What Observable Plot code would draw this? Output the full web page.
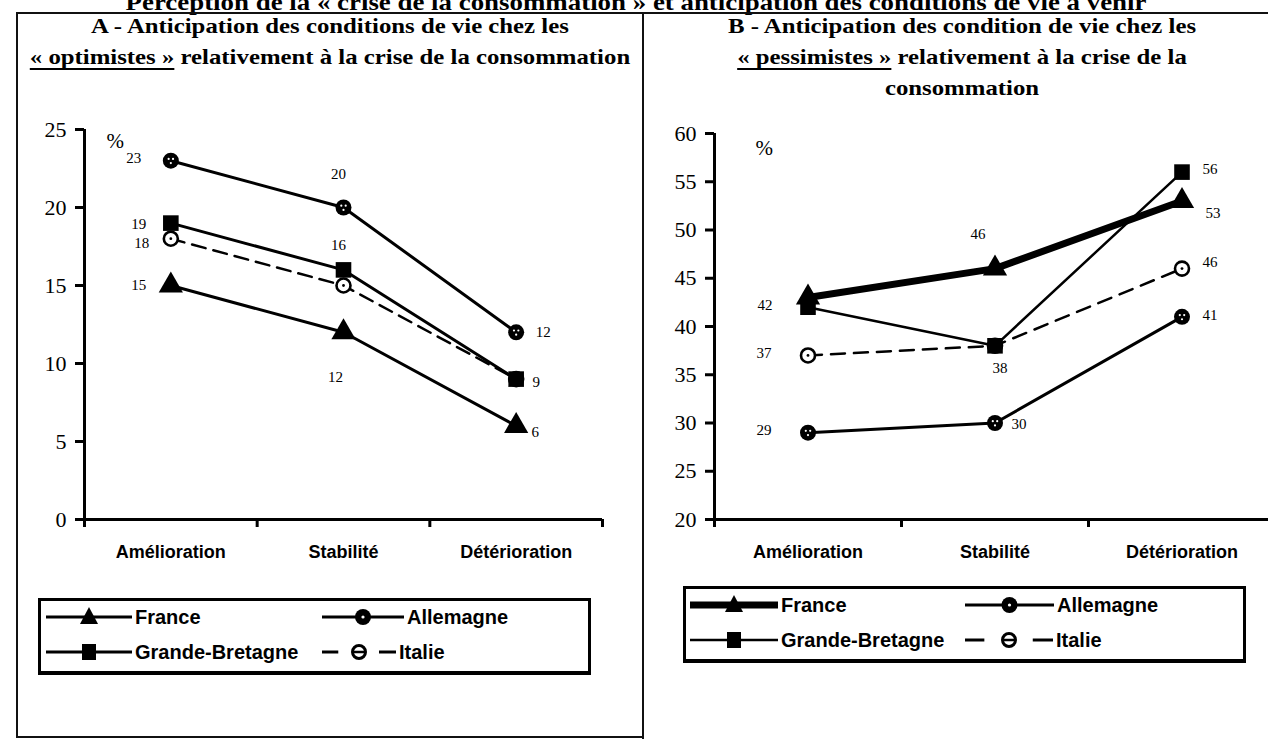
<!DOCTYPE html>
<html lang="fr">
<head>
<meta charset="utf-8">
<script src="https://cdn.jsdelivr.net/npm/d3@7"></script>
<script src="https://cdn.jsdelivr.net/npm/@observablehq/plot@0.6"></script>
<style>
  html, body { margin: 0; padding: 0; background: #fff; }
  body { position: relative; width: 1268px; height: 739px; overflow: hidden; color: #000; }
  .abs { position: absolute; }
  .supertitle { left: 0; width: 1272px; top: -5px; height: 14px; text-align: center; font: bold 24px/14px "Liberation Serif", serif;
    white-space: nowrap; transform: scaleX(1.12); transform-origin: 636px 0; }
  .panel { box-sizing: border-box; border: 2px solid #111; }
  .ptitle { text-align: center; font: bold 21px/31px "Liberation Serif", serif; white-space: nowrap; transform: scaleX(1.18); }
  .ptitle .u { text-decoration: underline; text-decoration-thickness: 2px; text-underline-offset: 4px; }
  .legend { box-sizing: border-box; border: 3px solid #000; border-bottom-width: 4px; }
  .item { display: flex; align-items: center; height: 28px; font: bold 20px "Liberation Sans", Arial, sans-serif; white-space: nowrap; }
  .item svg { display: block; margin-right: 3px; }
  .chart svg { display: block; max-width: none !important; }
</style>
</head>
<body>
<div class="abs supertitle">Perception de la « crise de la consommation » et anticipation des conditions de vie à venir</div>

<div class="abs panel" style="left:16px; top:12px; width:628px; height:726px;"></div>
<div class="abs panel" style="left:642px; top:12px; width:645px; height:740px;"></div>

<div class="abs ptitle" style="left:16px; width:628px; top:11px; transform-origin: 314px 0;">
  A - Anticipation des conditions de vie chez les<br>
  <span class="u">« optimistes »</span> relativement à la crise de la consommation
</div>
<div class="abs ptitle" style="left:642px; width:640px; top:11px; transform-origin: 320px 0;">
  B - Anticipation des condition de vie chez les<br>
  <span class="u">« pessimistes »</span> relativement à la crise de la<br>
  consommation
</div>

<div id="chartA" class="abs chart" style="left:0px; top:100px; width:642px;"></div>
<div id="chartB" class="abs chart" style="left:641px; top:100px; width:641px;"></div>

<div class="abs legend" style="left:38px; top:598px; width:553px; height:77px;"></div>
<div class="abs legend" style="left:683px; top:586px; width:563px; height:77px;"></div>
<div id="legendItems"></div>

<script>
// ---- Data -------------------------------------------------------------
const categories = ["Amélioration", "Stabilité", "Détérioration"];
const series = ["France", "Allemagne", "Grande-Bretagne", "Italie"];

// A : « optimistes »
const franceA = [15, 12, 6];
const allemagneA = [23, 20, 12];
const grandeBretagneA = [19, 16, 9];
const italieA = [18, 15, 9];

// B : « pessimistes »
const franceB = [43, 46, 53];
const allemagneB = [29, 30, 41];
const grandeBretagneB = [42, 38, 56];
const italieB = [37, 38, 46];

const yTicksA = [0, 5, 10, 15, 20, 25];
const yTicksB = [20, 25, 30, 35, 40, 45, 50, 55, 60];

// ---- Layout & style ---------------------------------------------------
const serif = "Liberation Serif, Times New Roman, serif";
const sans = "Liberation Sans, Arial, sans-serif";

// value-label offsets (dx, dy) per series and category; null = not printed
const labelPosA = {
  "France":          [[-32, 0], [-8, 45], [19, 6]],
  "Allemagne":       [[-37, -3], [-5, -33], [27, 0]],
  "Grande-Bretagne": [[-32, 1], [-5, -25], [20, 3]],
  "Italie":          [[-29, 4], null, null]
};
const labelPosB = {
  "France":          [null, [-17, -34], [31, 12]],
  "Allemagne":       [[-44, -2], [24, 1], [28, -2]],
  "Grande-Bretagne": [[-43, -2], [5, 22], [28, -3]],
  "Italie":          [[-44, -2], null, [28, -6]]
};

const styleA = {
  "France":          {marker: "triangle", strokeWidth: 3},
  "Allemagne":       {marker: "dotted", strokeWidth: 3},
  "Grande-Bretagne": {marker: "square", strokeWidth: 3},
  "Italie":          {marker: "open", strokeWidth: 2.5, dash: "14,8"}
};
const styleB = {
  "France":          {marker: "triangle", strokeWidth: 7},
  "Allemagne":       {marker: "dotted", strokeWidth: 3},
  "Grande-Bretagne": {marker: "square", strokeWidth: 2.5},
  "Italie":          {marker: "open", strokeWidth: 2.5, dash: "14,9"}
};
// drawing order of the markers (later ones on top)
const markerOrder = ["Italie", "Allemagne", "Grande-Bretagne", "France"];

function rowsOf(name, values) {
  return categories.map((c, i) => ({series: name, category: c, x: i + 0.5, value: values[i]}));
}

function markerMarks(rows, kind) {
  const pos = {x: "x", y: "value"};
  switch (kind) {
    case "triangle":
      return [Plot.dot(rows, {...pos, symbol: "triangle", r: 9, fill: "black"})];
    case "square":
      return [Plot.dot(rows, {...pos, symbol: "square", r: 8.8, fill: "black"})];
    case "dotted":
      // dark disc with a few light speckles
      return [
        Plot.dot(rows, {...pos, r: 8, fill: "black"}),
        Plot.dot(rows, {...pos, r: 1.1, fill: "white", dx: -2.2, dy: -1.8}),
        Plot.dot(rows, {...pos, r: 1.1, fill: "white", dx: 2.2, dy: -1.8}),
        Plot.dot(rows, {...pos, r: 1.1, fill: "white", dx: 0, dy: 2.4})
      ];
    case "open":
      return [
        Plot.dot(rows, {...pos, r: 7, fill: "white", stroke: "black", strokeWidth: 2.6}),
        Plot.dot(rows, {...pos, r: 1.4, fill: "black"})
      ];
  }
  return [];
}

function drawChart({data, style, labelPos, yDomain, yTicks, width, height, margin, percent}) {
  const marks = [];
  const n = categories.length;

  // axes
  marks.push(Plot.ruleX([0], {y1: yDomain[0], y2: yDomain[1], stroke: "black", strokeWidth: 3}));
  marks.push(Plot.ruleY([yDomain[0]], {x1: 0, x2: n, stroke: "black", strokeWidth: 3}));
  marks.push(Plot.axisY({ticks: yTicks, tickSize: 9, tickPadding: 9, stroke: "black", strokeWidth: 3,
    fontSize: 22, fontFamily: serif, fill: "black", label: null}));
  marks.push(Plot.axisX({ticks: d3.range(n + 1), tickSize: 8, tickFormat: () => "", stroke: "black",
    strokeWidth: 3, label: null}));
  marks.push(Plot.text(categories, {x: (d, i) => i + 0.5, y: () => yDomain[0], text: d => d, dy: 33,
    fontFamily: sans, fontWeight: "bold", fontSize: 18, fill: "black"}));
  marks.push(Plot.text(["%"], {frameAnchor: "top-left", text: d => d, dx: percent[0], dy: percent[1],
    fontFamily: serif, fontSize: 21, fill: "black"}));

  // lines
  for (const name of series) {
    const s = style[name];
    marks.push(Plot.line(data[name], {x: "x", y: "value", stroke: "black", strokeWidth: s.strokeWidth,
      strokeDasharray: s.dash, strokeLinejoin: "round"}));
  }
  // markers
  for (const name of markerOrder) marks.push(...markerMarks(data[name], style[name].marker));

  // printed values
  for (const name of series) {
    data[name].forEach((d, i) => {
      const p = labelPos[name][i];
      if (!p) return;
      marks.push(Plot.text([d], {x: "x", y: "value", text: r => String(r.value), dx: p[0], dy: p[1],
        fontFamily: serif, fontSize: 15, fill: "black"}));
    });
  }

  return Plot.plot({
    width, height,
    marginLeft: margin[0], marginRight: margin[1], marginTop: margin[2], marginBottom: margin[3],
    x: {domain: [0, n], label: null},
    y: {domain: yDomain, label: null},
    style: {background: "transparent", overflow: "visible", fontFamily: serif, maxWidth: "none"},
    marks
  });
}

const dataA = {
  "France": rowsOf("France", franceA),
  "Allemagne": rowsOf("Allemagne", allemagneA),
  "Grande-Bretagne": rowsOf("Grande-Bretagne", grandeBretagneA),
  "Italie": rowsOf("Italie", italieA)
};
const dataB = {
  "France": rowsOf("France", franceB),
  "Allemagne": rowsOf("Allemagne", allemagneB),
  "Grande-Bretagne": rowsOf("Grande-Bretagne", grandeBretagneB),
  "Italie": rowsOf("Italie", italieB)
};

document.getElementById("chartA").append(drawChart({
  data: dataA, style: styleA, labelPos: labelPosA,
  yDomain: [0, 25], yTicks: yTicksA,
  width: 642, height: 480, margin: [84, 40, 29, 61], percent: [22, 4]
}));
document.getElementById("chartB").append(drawChart({
  data: dataB, style: styleB, labelPos: labelPosB,
  yDomain: [20, 60], yTicks: yTicksB,
  width: 641, height: 480, margin: [73, 7, 33, 61], percent: [41, 7]
}));

// ---- Legends ----------------------------------------------------------
function legendSymbol(kind, w, lineWidth, dashed) {
  const h = 24, cy = 12, cx = w / 2;
  const line = dashed
    ? `<line x1="0" x2="${w * 0.22}" y1="${cy}" y2="${cy}" stroke="black" stroke-width="3"/>
       <line x1="${w * 0.77}" x2="${w}" y1="${cy}" y2="${cy}" stroke="black" stroke-width="3"/>`
    : `<line x1="0" x2="${w}" y1="${cy}" y2="${cy}" stroke="black" stroke-width="${lineWidth}"/>`;
  let m = "";
  if (kind === "triangle") m = `<path d="M${cx},${cy - 10} L${cx + 9},${cy + 7} L${cx - 9},${cy + 7}Z" fill="black"/>`;
  if (kind === "square") m = `<rect x="${cx - 7}" y="${cy - 8}" width="14" height="16" fill="black"/>`;
  if (kind === "dotted") m = `<circle cx="${cx}" cy="${cy}" r="8" fill="black"/><circle cx="${cx}" cy="${cy}" r="1.6" fill="white"/>`;
  if (kind === "open") m = `<circle cx="${cx}" cy="${cy}" r="6.5" fill="white" stroke="black" stroke-width="3"/>
     <line x1="${cx - 6}" x2="${cx + 6}" y1="${cy}" y2="${cy}" stroke="black" stroke-width="2.5"/>`;
  return `<svg width="${w}" height="${h}">${line}${m}</svg>`;
}

// legend placement: [left, row centre, symbol width]
const legendA = {
  "France": [46, 617, 86], "Allemagne": [322, 617, 82],
  "Grande-Bretagne": [46, 652, 86], "Italie": [322, 652, 74]
};
const legendB = {
  "France": [690, 605, 88], "Allemagne": [965, 605, 89],
  "Grande-Bretagne": [690, 640, 88], "Italie": [965, 640, 88]
};
const holder = document.getElementById("legendItems");
function addLegend(place, style) {
  for (const name of series) {
    const [left, cy, w] = place[name];
    const s = style[name];
    const div = document.createElement("div");
    div.className = "abs item";
    div.style.left = left + "px";
    div.style.top = (cy - 14) + "px";
    div.innerHTML = legendSymbol(s.marker, w, s.strokeWidth, !!s.dash) + `<span>${name}</span>`;
    holder.append(div);
  }
}
addLegend(legendA, styleA);
addLegend(legendB, styleB);
</script>
</body>
</html>
